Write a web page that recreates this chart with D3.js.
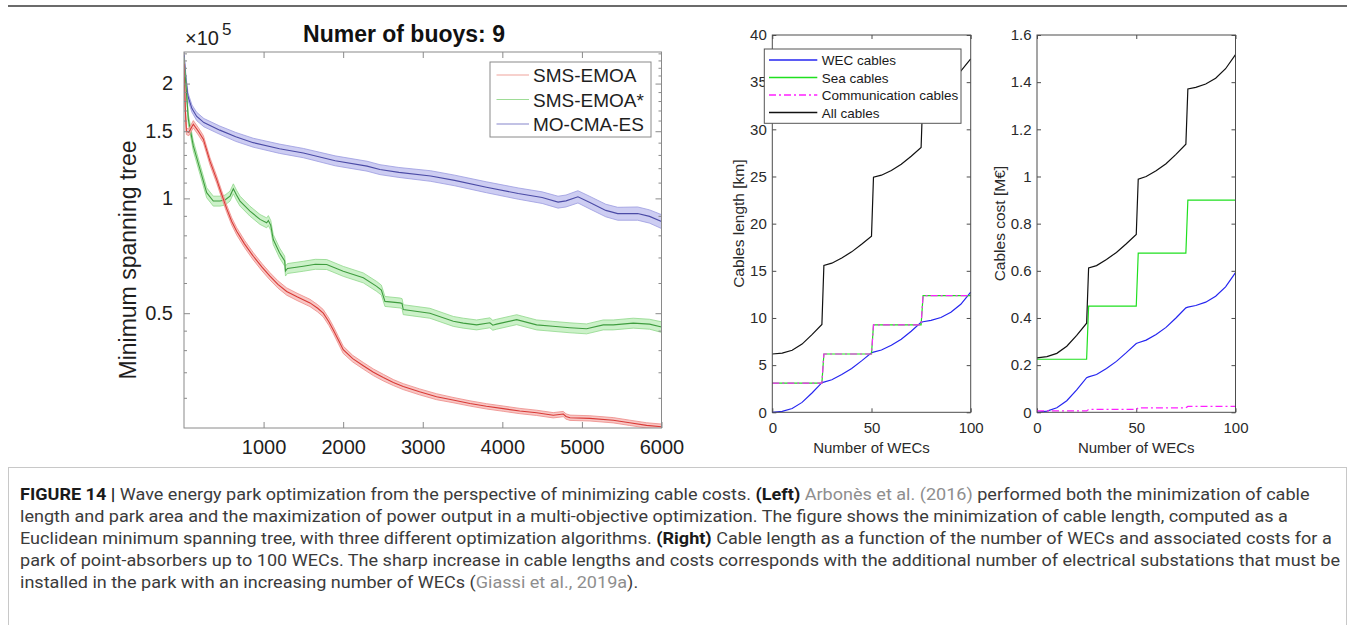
<!DOCTYPE html>
<html><head><meta charset="utf-8">
<script src="https://cdn.jsdelivr.net/npm/d3@7"></script>
<style>
html,body{margin:0;padding:0;background:#fff;}
svg{display:block;}
</style></head>
<body>
<svg id="chart" width="1355" height="625"></svg>
<script>
// ================= DATA =================
// Left panel: minimum spanning tree (x 10^5) vs iterations
const leftTitle = "Numer of buoys: 9";
const leftYLabel = "Minimum spanning tree";
const leftXTicks = [1000, 2000, 3000, 4000, 5000, 6000];
const leftXTopTicks = [1000, 2000, 3000, 4000, 5000];
const leftYTicks = [0.5, 1, 1.5, 2];
const leftYTickLabels = ["0.5", "1", "1.5", "2"];
const leftYMinor = [0.3, 0.35, 0.4, 0.45, 0.6, 0.7, 0.8, 0.9, 1.1, 1.2, 1.3, 1.4, 1.6, 1.7, 1.8, 1.9, 2.1, 2.2, 2.3, 2.4];
const seriesNames = ["SMS-EMOA", "SMS-EMOA*", "MO-CMA-ES"];

const redIter = [0, 15, 30, 60, 117, 180, 243, 327, 411, 470, 536, 600, 662, 760, 871, 980, 1080, 1180, 1290, 1420, 1583, 1680, 1750, 1820, 1876, 1940, 2001, 2120, 2253, 2380, 2504, 2630, 2755, 2960, 3174, 3380, 3593, 3800, 4011, 4220, 4431, 4640, 4766, 4800, 4850, 5100, 5394, 5600, 5813, 6000];
const redMean = [2.25, 1.75, 1.50, 1.49, 1.565, 1.50, 1.43, 1.25, 1.12, 1.03, 0.94, 0.87, 0.82, 0.76, 0.705, 0.66, 0.625, 0.595, 0.57, 0.552, 0.532, 0.515, 0.50, 0.475, 0.452, 0.425, 0.401, 0.38, 0.364, 0.350, 0.339, 0.329, 0.321, 0.311, 0.302, 0.296, 0.290, 0.285, 0.281, 0.277, 0.274, 0.270, 0.272, 0.268, 0.266, 0.265, 0.262, 0.258, 0.254, 0.252];
const redErr = [0.02, 0.02, 0.02, 0.02, 0.022, 0.022, 0.022, 0.022, 0.022, 0.022, 0.022, 0.022, 0.022, 0.022, 0.022, 0.022, 0.022, 0.022, 0.022, 0.022, 0.022, 0.022, 0.022, 0.022, 0.022, 0.022, 0.022, 0.02, 0.02, 0.02, 0.02, 0.018, 0.018, 0.018, 0.018, 0.016, 0.016, 0.016, 0.016, 0.016, 0.016, 0.016, 0.016, 0.016, 0.016, 0.016, 0.016, 0.016, 0.016, 0.016];

const greenIter = [0, 10, 25, 55, 117, 201, 285, 368, 452, 515, 578, 620, 660, 704, 829, 955, 1039, 1060, 1090, 1122, 1200, 1265, 1275, 1300, 1499, 1650, 1793, 2001, 2253, 2421, 2480, 2525, 2714, 2740, 2755, 3090, 3384, 3509, 3677, 3844, 3880, 3928, 4180, 4431, 4636, 4849, 5059, 5268, 5394, 5645, 5850, 6000];
const greenMean = [2.30, 2.15, 1.97, 1.61, 1.373, 1.192, 1.035, 0.984, 0.984, 0.99, 1.014, 1.06, 1.02, 0.984, 0.926, 0.881, 0.863, 0.875, 0.85, 0.78, 0.72, 0.685, 0.645, 0.655, 0.664, 0.672, 0.671, 0.644, 0.619, 0.588, 0.575, 0.537, 0.532, 0.53, 0.511, 0.500, 0.476, 0.471, 0.466, 0.472, 0.465, 0.468, 0.481, 0.466, 0.462, 0.458, 0.455, 0.466, 0.466, 0.471, 0.468, 0.460];
const greenErr = [0.02, 0.02, 0.025, 0.03, 0.03, 0.03, 0.03, 0.03, 0.03, 0.03, 0.03, 0.03, 0.03, 0.03, 0.03, 0.03, 0.03, 0.03, 0.03, 0.03, 0.03, 0.03, 0.03, 0.03, 0.03, 0.03, 0.03, 0.03, 0.03, 0.03, 0.03, 0.03, 0.03, 0.03, 0.03, 0.03, 0.03, 0.03, 0.03, 0.03, 0.03, 0.03, 0.03, 0.03, 0.03, 0.03, 0.03, 0.03, 0.03, 0.03, 0.03, 0.032];

const blueIter = [0, 25, 50, 100, 160, 250, 450, 650, 870, 1200, 1500, 1900, 2300, 2462, 2700, 3100, 3400, 3800, 4200, 4500, 4700, 4800, 4950, 5100, 5300, 5450, 5700, 5850, 6000];
const blueMean = [2.38, 2.05, 1.85, 1.72, 1.64, 1.58, 1.51, 1.45, 1.40, 1.35, 1.315, 1.255, 1.215, 1.19, 1.17, 1.145, 1.115, 1.07, 1.03, 1.005, 0.978, 0.985, 1.01, 0.975, 0.93, 0.912, 0.913, 0.897, 0.87];
const blueErr = [0.02, 0.02, 0.022, 0.022, 0.025, 0.025, 0.025, 0.027, 0.027, 0.028, 0.028, 0.03, 0.03, 0.03, 0.03, 0.032, 0.032, 0.033, 0.034, 0.035, 0.036, 0.036, 0.037, 0.038, 0.038, 0.039, 0.04, 0.04, 0.042];

// Middle & right panels: cables vs number of WECs
const wecN = [0, 5, 10, 15, 20, 25, 26, 30, 35, 40, 45, 50, 51, 55, 60, 65, 70, 75, 76, 80, 85, 90, 95, 100];
const lenWEC  = [0, 0.1, 0.4, 1.05, 2.05, 3.14, 3.2, 3.45, 4.0, 4.65, 5.45, 6.32, 6.38, 6.6, 7.1, 7.75, 8.6, 9.54, 9.6, 9.75, 10.05, 10.6, 11.45, 12.75];
const lenSea  = [3.09, 3.09, 3.09, 3.09, 3.09, 3.09, 6.18, 6.18, 6.18, 6.18, 6.18, 6.18, 9.27, 9.27, 9.27, 9.27, 9.27, 9.27, 12.36, 12.36, 12.36, 12.36, 12.36, 12.36];
const lenComm = [3.09, 3.09, 3.09, 3.09, 3.09, 3.09, 6.18, 6.18, 6.18, 6.18, 6.18, 6.18, 9.27, 9.27, 9.27, 9.27, 9.27, 9.27, 12.36, 12.36, 12.36, 12.36, 12.36, 12.36];
const lenAll  = [6.18, 6.28, 6.58, 7.23, 8.23, 9.32, 15.56, 15.81, 16.36, 17.01, 17.81, 18.68, 24.92, 25.14, 25.64, 26.29, 27.14, 28.08, 34.32, 34.47, 34.77, 35.32, 36.17, 37.47];

const costWEC  = [0, 0.005, 0.019, 0.049, 0.095, 0.147, 0.15, 0.16, 0.186, 0.216, 0.253, 0.292, 0.295, 0.306, 0.33, 0.36, 0.40, 0.443, 0.446, 0.453, 0.467, 0.492, 0.532, 0.592];
const costSea  = [0.225, 0.225, 0.225, 0.225, 0.225, 0.225, 0.45, 0.45, 0.45, 0.45, 0.45, 0.45, 0.675, 0.675, 0.675, 0.675, 0.675, 0.675, 0.9, 0.9, 0.9, 0.9, 0.9, 0.9];
const costComm = [0.006, 0.006, 0.006, 0.006, 0.006, 0.006, 0.012, 0.012, 0.012, 0.012, 0.012, 0.012, 0.019, 0.019, 0.019, 0.019, 0.019, 0.019, 0.025, 0.025, 0.025, 0.025, 0.025, 0.025];
const costAll  = [0.231, 0.236, 0.25, 0.28, 0.326, 0.378, 0.612, 0.622, 0.648, 0.678, 0.715, 0.754, 0.989, 1.0, 1.024, 1.054, 1.094, 1.137, 1.371, 1.378, 1.392, 1.417, 1.457, 1.517];

const cableNames = ["WEC cables", "Sea cables", "Communication cables", "All cables"];
const midXTicks = [0, 50, 100];
const lenYTicks = [0, 5, 10, 15, 20, 25, 30, 35, 40];
const costYTicks = [0, 0.2, 0.4, 0.6, 0.8, 1, 1.2, 1.4, 1.6];
const costYTickLabels = ["0", "0.2", "0.4", "0.6", "0.8", "1", "1.2", "1.4", "1.6"];

// ================= DRAW =================
const svg = d3.select("#chart");
const FONT = "'Liberation Sans', Arial, Helvetica, sans-serif";

function zip(xs, ys, es) { return xs.map((x, i) => ({x: x, y: ys[i], e: es ? es[i] : 0})); }

function styleAxis(sel, size, lineColor, textColor) {
  sel.select(".domain").remove();
  sel.attr("font-family", null).attr("font-size", null);
  sel.selectAll(".tick line").attr("stroke", lineColor).attr("stroke-width", 1);
  sel.selectAll(".tick text").attr("fill", textColor)
    .style("font-family", FONT).style("font-size", size + "px");
}

// top rule
svg.append("line").attr("x1", 8).attr("x2", 1347).attr("y1", 6).attr("y2", 6)
  .attr("stroke", "#3a3a3a").attr("stroke-width", 1.5);

// ---------- LEFT PANEL ----------
const L = {x0: 184, x1: 661.5, y0: 52, y1: 428};
const xL = d3.scaleLinear().domain([0, 6000]).range([L.x0, L.x1]);
const yL = d3.scaleLog().domain([0.25, 2.42]).range([L.y1, L.y0]);
const gL = svg.append("g");
gL.append("clipPath").attr("id", "clipL").append("rect")
  .attr("x", L.x0).attr("y", L.y0).attr("width", L.x1 - L.x0).attr("height", L.y1 - L.y0);

const leftSeries = [
  {name: seriesNames[2], data: zip(blueIter, blueMean, blueErr), line: "#4b4ba6", band: "#c4c4f0", edge: "#9b9be0", leg: "#8585cc"},
  {name: seriesNames[1], data: zip(greenIter, greenMean, greenErr), line: "#3f9d3f", band: "#c3eec0", edge: "#8fd88a", leg: "#9edc96"},
  {name: seriesNames[0], data: zip(redIter, redMean, redErr), line: "#d83a36", band: "#f7bdbb", edge: "#ee8a86", leg: "#f0a49c"}
];
const plotL = gL.append("g").attr("clip-path", "url(#clipL)");
leftSeries.forEach(s => {
  const area = d3.area().x(d => xL(d.x)).y0(d => yL(d.y * (1 - d.e))).y1(d => yL(d.y * (1 + d.e)));
  plotL.append("path").attr("d", area(s.data)).attr("fill", s.band).attr("fill-opacity", 0.85);
  const lo = d3.line().x(d => xL(d.x)).y(d => yL(d.y * (1 - d.e)));
  const hi = d3.line().x(d => xL(d.x)).y(d => yL(d.y * (1 + d.e)));
  plotL.append("path").attr("d", lo(s.data)).attr("fill", "none").attr("stroke", s.edge).attr("stroke-width", 0.8);
  plotL.append("path").attr("d", hi(s.data)).attr("fill", "none").attr("stroke", s.edge).attr("stroke-width", 0.8);
  const ln = d3.line().x(d => xL(d.x)).y(d => yL(d.y));
  plotL.append("path").attr("d", ln(s.data)).attr("fill", "none").attr("stroke", s.line).attr("stroke-width", 1.1);
});

const axCol = "#8a8a8a";
gL.append("g").attr("transform", `translate(0,${L.y1})`)
  .call(d3.axisBottom(xL).tickValues(leftXTicks).tickSize(-6).tickPadding(12).tickFormat(d3.format("d")))
  .call(s => styleAxis(s, 20, axCol, "#1e1e1e"));
gL.append("g").attr("transform", `translate(0,${L.y0})`)
  .call(d3.axisTop(xL).tickValues(leftXTopTicks).tickSize(-6).tickFormat(""))
  .call(s => styleAxis(s, 20, axCol, "#1e1e1e"));
gL.append("g").attr("transform", `translate(${L.x0},0)`)
  .call(d3.axisLeft(yL).tickValues(leftYTicks).tickSize(-6).tickPadding(11).tickFormat((d, i) => leftYTickLabels[i]))
  .call(s => styleAxis(s, 20, axCol, "#1e1e1e"));
gL.append("g").attr("transform", `translate(${L.x0},0)`)
  .call(d3.axisLeft(yL).tickValues(leftYMinor).tickSize(-3).tickFormat(""))
  .call(s => styleAxis(s, 20, axCol, "#1e1e1e"));
gL.append("g").attr("transform", `translate(${L.x1},0)`)
  .call(d3.axisRight(yL).tickValues(leftYTicks).tickSize(-6).tickFormat(""))
  .call(s => styleAxis(s, 20, axCol, "#1e1e1e"));
gL.append("g").attr("transform", `translate(${L.x1},0)`)
  .call(d3.axisRight(yL).tickValues(leftYMinor).tickSize(-3).tickFormat(""))
  .call(s => styleAxis(s, 20, axCol, "#1e1e1e"));
gL.append("rect").attr("x", L.x0).attr("y", L.y0).attr("width", L.x1 - L.x0).attr("height", L.y1 - L.y0)
  .attr("fill", "none").attr("stroke", axCol).attr("stroke-width", 1);

// exponent label
const ex = gL.append("text").attr("x", L.x0 + 1).attr("y", 45).attr("fill", "#1e1e1e")
  .style("font-family", FONT).style("font-size", "20px");
ex.append("tspan").text("\u00d710");
ex.append("tspan").attr("dy", -10).style("font-size", "17px").attr("dx", 3).text("5");

// title
gL.append("text").attr("x", 404).attr("y", 42).attr("text-anchor", "middle").attr("fill", "#111")
  .style("font-family", FONT).style("font-size", "23px").style("font-weight", "bold").text(leftTitle);

// y label
gL.append("text").attr("transform", `translate(136,${(L.y0 + L.y1) / 2 + 20}) rotate(-90)`)
  .attr("text-anchor", "middle").attr("fill", "#1e1e1e")
  .style("font-family", FONT).style("font-size", "23px").text(leftYLabel);

// legend
const lg = gL.append("g");
lg.append("rect").attr("x", 490).attr("y", 62).attr("width", 161).attr("height", 75)
  .attr("fill", "#fff").attr("stroke", "#8a8a8a").attr("stroke-width", 1);
const legOrder = [leftSeries[2], leftSeries[1], leftSeries[0]];
legOrder.forEach((s, i) => {
  const yy = 75 + i * 24.5;
  lg.append("line").attr("x1", 496.5).attr("x2", 529).attr("y1", yy).attr("y2", yy)
    .attr("stroke", s.leg).attr("stroke-width", 1.2);
  lg.append("text").attr("x", 533).attr("y", yy + 7).attr("fill", "#1e1e1e")
    .style("font-family", FONT).style("font-size", "19px").text(s.name);
});

// ---------- MIDDLE & RIGHT PANELS ----------
const cableStyles = [
  {color: "#2525f0", dash: null},
  {color: "#1fe01f", dash: null},
  {color: "#ff20ff", dash: "7,3,2,3"},
  {color: "#111111", dash: null}
];

function cablePanel(box, yDomain, yTicks, yLabels, series, yLabel, labelX) {
  const g = svg.append("g");
  const x = d3.scaleLinear().domain([0, 100]).range([box.x0, box.x1]);
  const y = d3.scaleLinear().domain(yDomain).range([box.y1, box.y0]);
  const col = "#4d4d4d", tcol = "#2a2a2a";
  g.append("g").attr("transform", `translate(0,${box.y1})`)
    .call(d3.axisBottom(x).tickValues(midXTicks).tickSize(-4).tickPadding(10))
    .call(s => styleAxis(s, 15, col, tcol));
  g.append("g").attr("transform", `translate(0,${box.y0})`)
    .call(d3.axisTop(x).tickValues(midXTicks).tickSize(-4).tickFormat(""))
    .call(s => styleAxis(s, 15, col, tcol));
  g.append("g").attr("transform", `translate(${box.x0},0)`)
    .call(d3.axisLeft(y).tickValues(yTicks).tickSize(-4).tickPadding(5.5).tickFormat((d, i) => yLabels[i]))
    .call(s => styleAxis(s, 15, col, tcol));
  g.append("g").attr("transform", `translate(${box.x1},0)`)
    .call(d3.axisRight(y).tickValues(yTicks).tickSize(-4).tickFormat(""))
    .call(s => styleAxis(s, 15, col, tcol));
  series.forEach((vals, i) => {
    const st = cableStyles[i];
    const ln = d3.line().x(d => x(d.x)).y(d => y(d.y));
    const p = g.append("path").attr("d", ln(zip(wecN, vals))).attr("fill", "none")
      .attr("stroke", st.color).attr("stroke-width", 1.2);
    if (st.dash) p.attr("stroke-dasharray", st.dash);
  });
  g.append("rect").attr("x", box.x0).attr("y", box.y0).attr("width", box.x1 - box.x0).attr("height", box.y1 - box.y0)
    .attr("fill", "none").attr("stroke", col).attr("stroke-width", 1);
  g.append("text").attr("x", (box.x0 + box.x1) / 2).attr("y", 453).attr("text-anchor", "middle")
    .attr("fill", tcol).style("font-family", FONT).style("font-size", "15px").text("Number of WECs");
  g.append("text").attr("transform", `translate(${labelX},${(box.y0 + box.y1) / 2}) rotate(-90)`)
    .attr("text-anchor", "middle").attr("fill", tcol)
    .style("font-family", FONT).style("font-size", "15.5px").text(yLabel);
  return g;
}

const M = {x0: 772.3, x1: 970.7, y0: 35, y1: 412.3};
const R = {x0: 1037, x1: 1235.5, y0: 35, y1: 412.3};
const gM = cablePanel(M, [0, 40], lenYTicks, lenYTicks.map(String),
  [lenWEC, lenSea, lenComm, lenAll], "Cables length [km]", 744);
cablePanel(R, [0, 1.6], costYTicks, costYTickLabels,
  [costWEC, costSea, costComm, costAll], "Cables cost [M\u20ac]", 1005);

// middle legend
const ml = gM.append("g");
ml.append("rect").attr("x", 764.3).attr("y", 49).attr("width", 196.7).attr("height", 74.3)
  .attr("fill", "#fff").attr("stroke", "#555").attr("stroke-width", 1);
cableNames.forEach((n, i) => {
  const yy = 60 + i * 17.5;
  const st = cableStyles[i];
  const l = ml.append("line").attr("x1", 769).attr("x2", 817.3).attr("y1", yy).attr("y2", yy)
    .attr("stroke", st.color).attr("stroke-width", 1.3);
  if (st.dash) l.attr("stroke-dasharray", st.dash);
  ml.append("text").attr("x", 821.7).attr("y", yy + 5).attr("fill", "#1a1a1a")
    .style("font-family", FONT).style("font-size", "13.5px").text(n);
});

// ---------- CAPTION ----------
svg.append("rect").attr("x", 8.5).attr("y", 467.5).attr("width", 1338).attr("height", 200)
  .attr("fill", "none").attr("stroke", "#c8c8c8").attr("stroke-width", 1);
const capLines = [
  [["FIGURE 14 | ", "b"], ["Wave energy park optimization from the perspective of minimizing cable costs. ", ""], ["(Left) ", "b"], ["Arbon\u00e8s et al. (2016)", "g"], [" performed both the minimization of cable", ""]],
  [["length and park area and the maximization of power output in a multi-objective optimization. The figure shows the minimization of cable length, computed as a", ""]],
  [["Euclidean minimum spanning tree, with three different optimization algorithms. ", ""], ["(Right) ", "b"], ["Cable length as a function of the number of WECs and associated costs for a", ""]],
  [["park of point-absorbers up to 100 WECs. The sharp increase in cable lengths and costs corresponds with the additional number of electrical substations that must be", ""]],
  [["installed in the park with an increasing number of WECs (", ""], ["Giassi et al., 2019a", "g"], [").", ""]]
];
const capTexts = capLines.map((parts, i) => {
  const t = svg.append("text").attr("x", 20).attr("y", 500 + i * 22)
    .style("font-family", "Roboto, 'Liberation Sans', sans-serif")
    .style("font-size", "16px").attr("fill", "#3b3b3b");
  parts.forEach(p => {
    const ts = t.append("tspan").text(p[0]);
    if (p[1] === "b") ts.style("font-weight", "bold").attr("fill", "#1a1a1a");
    if (p[1] === "g") ts.attr("fill", "#8e8e8e");
  });
  return t;
});
// common horizontal condensation so that line 4 spans to the right margin
const natW = capTexts.map(t => t.node().getComputedTextLength());
const capFactor = 1320 / natW[3];
capTexts.forEach((t, i) => t.attr("textLength", natW[i] * capFactor).attr("lengthAdjust", "spacingAndGlyphs"));
</script>
</body></html>
